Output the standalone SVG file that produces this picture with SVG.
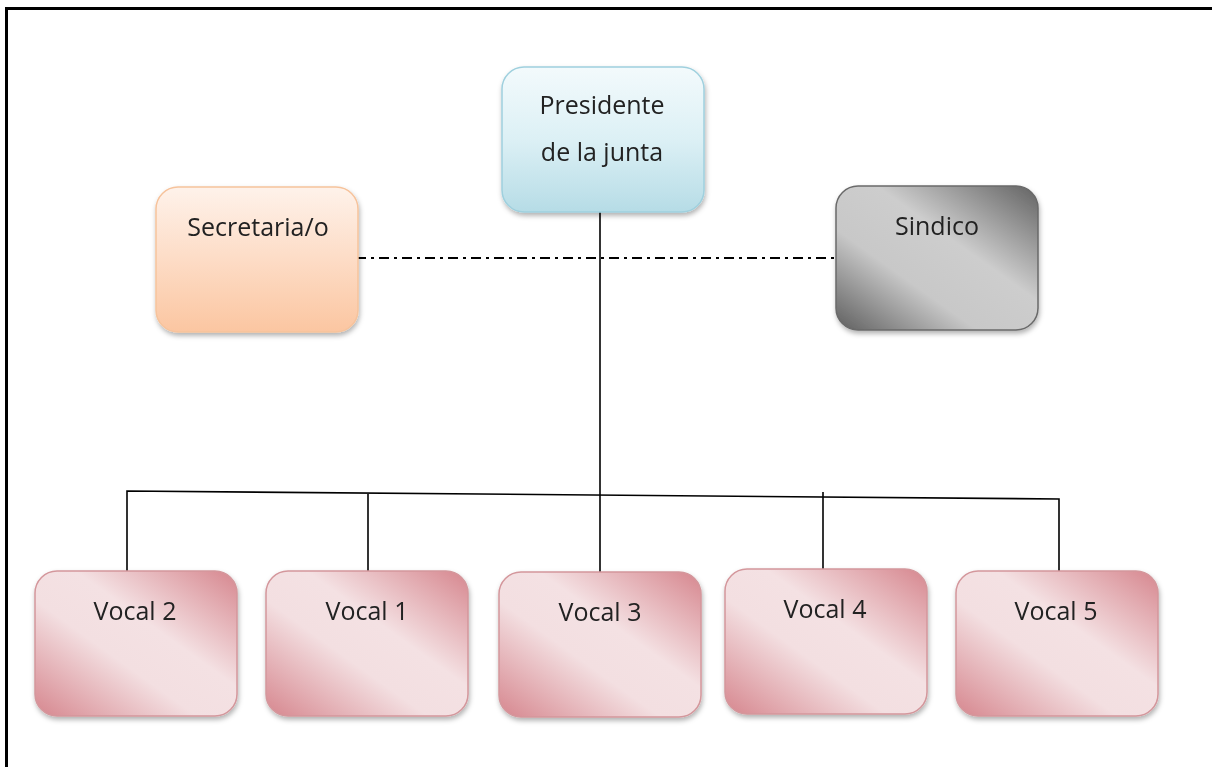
<svg xmlns="http://www.w3.org/2000/svg" width="1212" height="767" viewBox="0 0 1212 767">
<style>
.lbl{font-family:"Open Sans","Liberation Sans",sans-serif;font-size:25px;fill:#222;text-anchor:middle}
.box{stroke-width:1.5}
.blue{fill:url(#gBlue);stroke:#9fd0de}
.peach{fill:url(#gPeach);stroke:#f6c39c}
.gray{fill:url(#gGray);stroke:#6a6a6a}
.pink{fill:url(#gPink);stroke:#d4979c}
.ln{stroke:#000;stroke-width:1.6;fill:none}
</style>
<defs>
<linearGradient id="gBlue" x1="0" y1="0" x2="0" y2="1">
<stop offset="0" stop-color="#f3fafc"/><stop offset="0.5" stop-color="#dcf0f5"/><stop offset="1" stop-color="#b6dce6"/>
</linearGradient>
<linearGradient id="gPeach" x1="0" y1="0" x2="0" y2="1">
<stop offset="0" stop-color="#fef2ea"/><stop offset="0.5" stop-color="#fddcc6"/><stop offset="1" stop-color="#fbc6a1"/>
</linearGradient>
<linearGradient id="gGray" x1="1" y1="0" x2="0" y2="1">
<stop offset="0" stop-color="#626262"/><stop offset="0.4" stop-color="#cdcdcd"/><stop offset="0.65" stop-color="#c8c8c8"/><stop offset="1" stop-color="#5e5e5e"/>
</linearGradient>
<linearGradient id="gPink" x1="1" y1="0" x2="0" y2="1">
<stop offset="0" stop-color="#d6868e"/><stop offset="0.4" stop-color="#f4e1e3"/><stop offset="0.6" stop-color="#f3dfe1"/><stop offset="1" stop-color="#d6868e"/>
</linearGradient>
<filter id="sh" x="-10%" y="-10%" width="125%" height="130%">
<feDropShadow dx="1" dy="3" stdDeviation="2.5" flood-color="#000" flood-opacity="0.3"/>
</filter>
</defs>
<rect width="1212" height="767" fill="#fff"/>
<path d="M6.5 767 V8.5 H1212" fill="none" stroke="#000" stroke-width="3"/>

<g id="connectors">
<line class="ln" x1="600" y1="210" x2="600" y2="573"/>
<polyline class="ln" points="127,573 127,491 1059,499 1059,573"/>
<line class="ln" x1="368" y1="494" x2="368" y2="572"/>
<line class="ln" x1="823" y1="492" x2="823" y2="570"/>
<line x1="356" y1="258" x2="838" y2="258" stroke="#000" stroke-width="2" stroke-dasharray="10,5,3,5"/>
</g>

<g id="presidente" filter="url(#sh)">
<rect class="box blue" x="502" y="67" width="202" height="145" rx="22"/>
<text class="lbl" x="602" y="114">Presidente</text>
<text class="lbl" x="602" y="161">de la junta</text>
</g>
<g id="secretaria" filter="url(#sh)">
<rect class="box peach" x="156" y="187" width="202" height="145" rx="22"/>
<text class="lbl" x="258" y="236">Secretaria/o</text>
</g>
<g id="sindico" filter="url(#sh)">
<rect class="box gray" x="836" y="186" width="202" height="144" rx="22"/>
<text class="lbl" x="937" y="235">Sindico</text>
</g>
<g id="vocal2" filter="url(#sh)">
<rect class="box pink" x="35" y="571" width="202" height="145" rx="22"/>
<text class="lbl" x="135" y="620">Vocal 2</text>
</g>
<g id="vocal1" filter="url(#sh)">
<rect class="box pink" x="266" y="571" width="202" height="145" rx="22"/>
<text class="lbl" x="367" y="620">Vocal 1</text>
</g>
<g id="vocal3" filter="url(#sh)">
<rect class="box pink" x="499" y="572" width="202" height="145" rx="22"/>
<text class="lbl" x="600" y="621">Vocal 3</text>
</g>
<g id="vocal4" filter="url(#sh)">
<rect class="box pink" x="725" y="569" width="202" height="145" rx="22"/>
<text class="lbl" x="825" y="618">Vocal 4</text>
</g>
<g id="vocal5" filter="url(#sh)">
<rect class="box pink" x="956" y="571" width="202" height="145" rx="22"/>
<text class="lbl" x="1056" y="620">Vocal 5</text>
</g>
</svg>
